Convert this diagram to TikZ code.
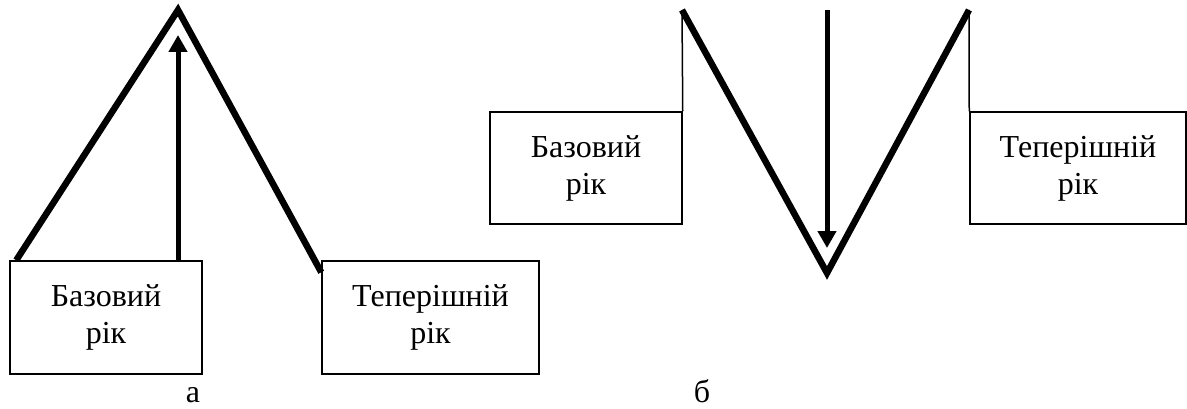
\documentclass[tikz,border=0pt]{standalone}
\usepackage{fontspec}
\setmainfont{Liberation Serif}
\usetikzlibrary{arrows.meta, calc}

\tikzset{
  yearbox/.style={draw, line width=1.5pt, align=center, inner sep=0pt,
    font=\fontsize{32}{37}\selectfont},
  trendline/.style={line width=6.5pt},
  guide/.style={line width=1.5pt},
  pointer/.style={line width=5pt},
  caption/.style={anchor=base, font=\fontsize{32}{37}\selectfont}
}

\begin{document}
\begin{tikzpicture}[x=1pt, y=1pt, >={Triangle[length=17pt, width=18pt]}]

% Page frame
\useasboundingbox (0,0) rectangle (1187,408);

% ================================================================
% Panel a: rise from base year
% ================================================================
\node[yearbox, minimum width=192pt, minimum height=113pt] (baseA) at (106,90.5)
  {Базовий\\рік};
\node[yearbox, minimum width=217pt, minimum height=113pt] (curA) at (430.5,90.5)
  {Теперішній\\рік};

\coordinate (apexA) at (178,398);
\coordinate (tipA) at (178,373);

\draw[trendline] ($(baseA.north west)+(7,0)$) -- (apexA)
  -- ($(curA.north west)+(0,-12)$);
\draw[pointer, ->] (baseA.north west -| apexA) -- (tipA);

\node[caption] (capA) at (193,6) {а};

% ================================================================
% Panel b: fall between the years
% ================================================================
\node[yearbox, minimum width=192pt, minimum height=112pt] (baseB) at (586,240)
  {Базовий\\рік};
\node[yearbox, minimum width=216pt, minimum height=112pt] (curB) at (1078,240)
  {Теперішній\\рік};

\coordinate (leftB) at (682,398);
\coordinate (rightB) at (969,398);
\coordinate (vertB) at (827,135);
\coordinate (tipB) at (827,160);

\draw[guide] (baseB.north east) -- (leftB);
\draw[trendline] (leftB) -- (vertB) -- (rightB);
\draw[guide] (rightB) -- (curB.north west);
\draw[pointer, ->] (vertB |- leftB) -- (tipB);

\node[caption] (capB) at (702,6) {б};

\end{tikzpicture}
\end{document}
